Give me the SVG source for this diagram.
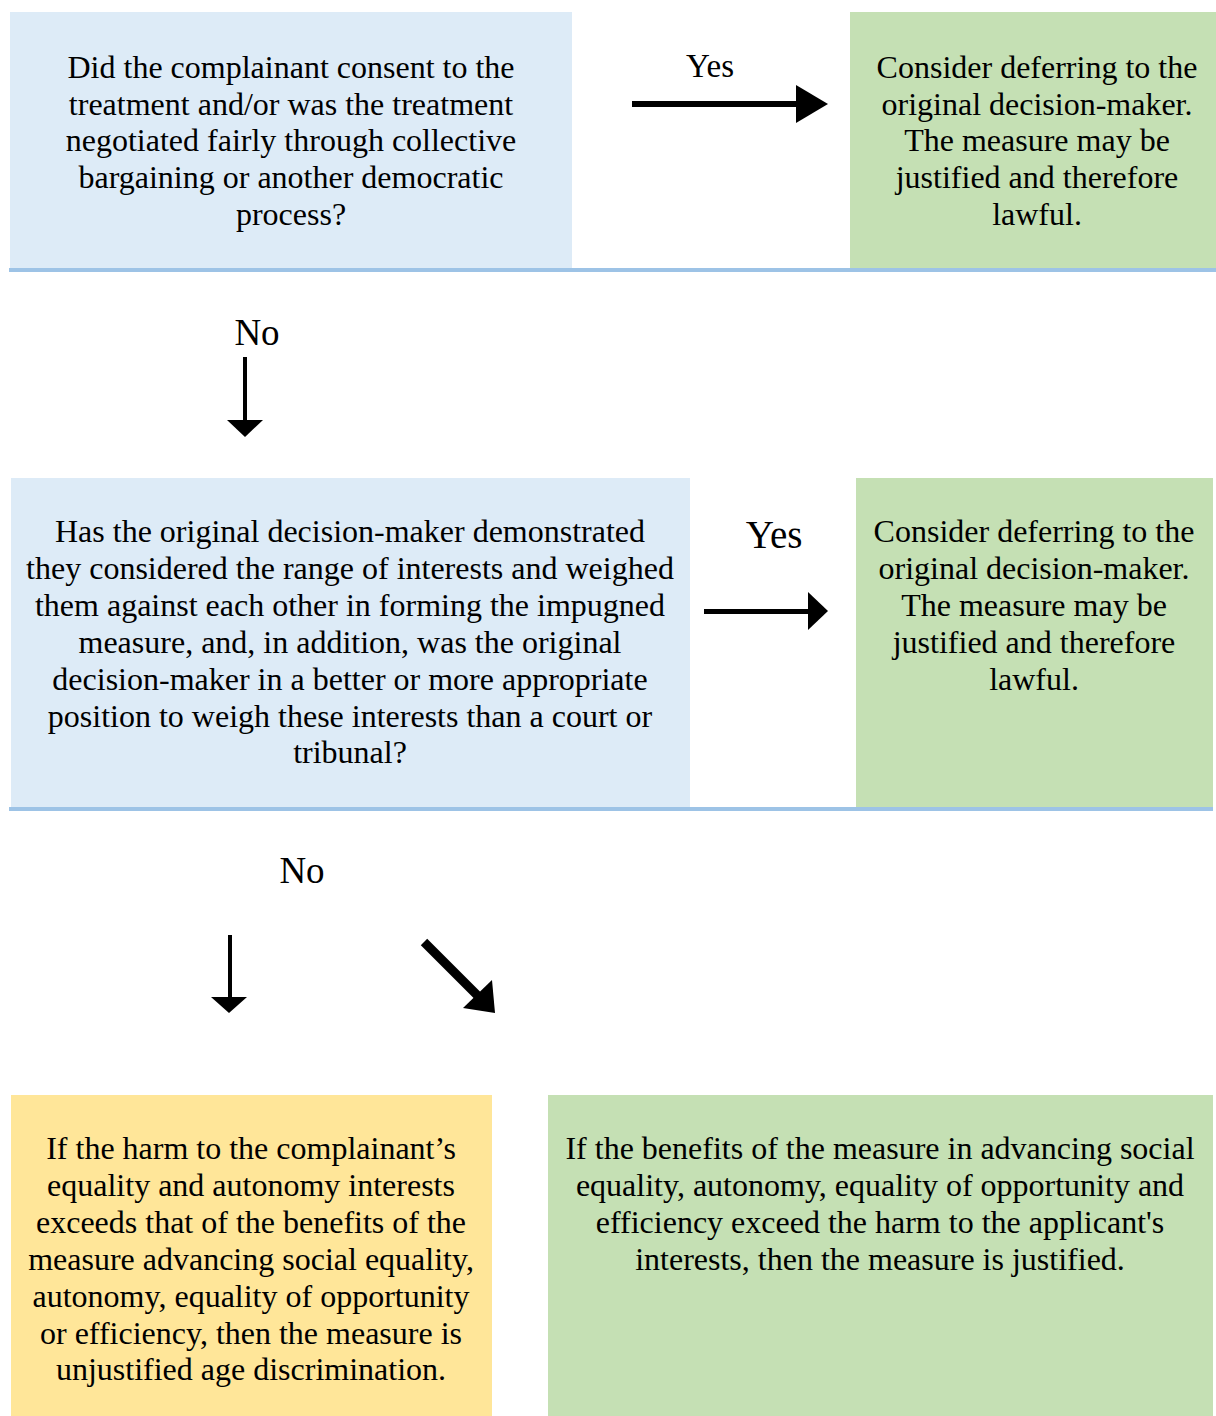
<svg xmlns="http://www.w3.org/2000/svg" width="1216" height="1416" viewBox="0 0 1216 1416">
<style>
text{font-family:"Liberation Serif","Times New Roman",serif;fill:#000;text-anchor:middle}
.t{font-size:32px}
.blue{fill:#DDEBF7}
.green{fill:#C5E0B4}
.yellow{fill:#FFE699}
.rule{fill:#9DC3E6}
</style>
<rect width="1216" height="1416" fill="#fff"/>
<g id="q1">
<rect class="blue" x="10" y="12" width="562" height="256"/>
<text class="t" x="291" y="78">Did the complainant consent to the</text>
<text class="t" x="291" y="115">treatment and/or was the treatment</text>
<text class="t" x="291" y="151">negotiated fairly through collective</text>
<text class="t" x="291" y="188">bargaining or another democratic</text>
<text class="t" x="291" y="225">process?</text>
</g>
<g id="r1">
<rect class="green" x="850" y="12" width="366" height="256"/>
<text class="t" x="1037" y="78">Consider deferring to the</text>
<text class="t" x="1037" y="115">original decision-maker.</text>
<text class="t" x="1037" y="151">The measure may be</text>
<text class="t" x="1037" y="188">justified and therefore</text>
<text class="t" x="1037" y="225">lawful.</text>
</g>
<rect class="rule" x="9" y="268" width="1207" height="4"/>
<g id="q2">
<rect class="blue" x="11" y="478" width="679" height="329"/>
<text class="t" x="350" y="542">Has the original decision-maker demonstrated</text>
<text class="t" x="350" y="579">they considered the range of interests and weighed</text>
<text class="t" x="350" y="616">them against each other in forming the impugned</text>
<text class="t" x="350" y="653">measure, and, in addition, was the original</text>
<text class="t" x="350" y="690">decision-maker in a better or more appropriate</text>
<text class="t" x="350" y="727">position to weigh these interests than a court or</text>
<text class="t" x="350" y="763">tribunal?</text>
</g>
<g id="r2">
<rect class="green" x="856" y="478" width="357" height="329"/>
<text class="t" x="1034" y="542">Consider deferring to the</text>
<text class="t" x="1034" y="579">original decision-maker.</text>
<text class="t" x="1034" y="616">The measure may be</text>
<text class="t" x="1034" y="653">justified and therefore</text>
<text class="t" x="1034" y="690">lawful.</text>
</g>
<rect class="rule" x="9" y="807" width="1204" height="4"/>
<g id="r3">
<rect class="yellow" x="11" y="1095" width="481" height="321"/>
<text class="t" x="251" y="1159">If the harm to the complainant’s</text>
<text class="t" x="251" y="1196">equality and autonomy interests</text>
<text class="t" x="251" y="1233">exceeds that of the benefits of the</text>
<text class="t" x="251" y="1270">measure advancing social equality,</text>
<text class="t" x="251" y="1307">autonomy, equality of opportunity</text>
<text class="t" x="251" y="1344">or efficiency, then the measure is</text>
<text class="t" x="251" y="1380">unjustified age discrimination.</text>
</g>
<g id="r4">
<rect class="green" x="548" y="1095" width="665" height="321"/>
<text class="t" x="880" y="1159">If the benefits of the measure in advancing social</text>
<text class="t" x="880" y="1196">equality, autonomy, equality of opportunity and</text>
<text class="t" x="880" y="1233">efficiency exceed the harm to the applicant's</text>
<text class="t" x="880" y="1270">interests, then the measure is justified.</text>
</g>
<g id="connectors">
<rect x="632" y="101" width="166" height="6"/>
<polygon points="796,85 828,104 796,123"/>
<text x="710" y="77" style="font-size:33px">Yes</text>
<text x="257" y="345" style="font-size:37px">No</text>
<rect x="243" y="357" width="4" height="64"/>
<polygon points="227,420 263,420 245,437"/>
<rect x="704" y="609" width="106" height="5"/>
<polygon points="808,592 828,611 808,630"/>
<text x="774" y="548" style="font-size:39px">Yes</text>
<text x="302" y="883" style="font-size:37px">No</text>
<rect x="228" y="935" width="4" height="63"/>
<polygon points="211,997 247,997 229,1013"/>
<line x1="424" y1="942" x2="479" y2="997" stroke="#000" stroke-width="9"/>
<polygon points="463,1008 492,980 495,1013"/>
</g>
</svg>
